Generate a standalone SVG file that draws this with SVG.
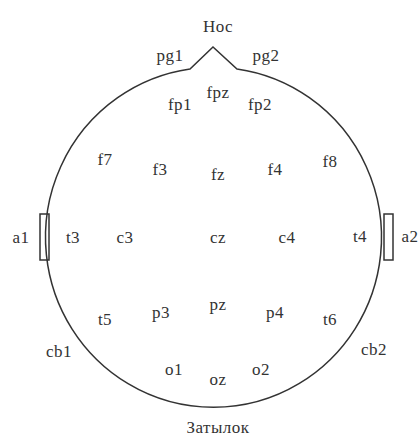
<svg xmlns="http://www.w3.org/2000/svg" width="420" height="437" viewBox="0 0 420 437">
<style>
text{font-family:"Liberation Serif","DejaVu Serif","Times New Roman",serif;font-size:17px;fill:#333;text-anchor:middle;letter-spacing:0.5px}
.ln{fill:none;stroke:#333;stroke-width:1.5}
</style>
<rect width="420" height="437" fill="#fff"/>
<g id="head">
<path class="ln" d="M 237 69 A 168 170 0 1 1 190 69 L 213 47 Z" stroke-linejoin="miter"/>
</g>
<g id="ear-left"><rect class="ln" x="40" y="214" width="9" height="46"/></g>
<g id="ear-right"><rect class="ln" x="384" y="214" width="9" height="46"/></g>
<g id="labels">
<text x="218" y="32">Нос</text>
<text x="170" y="61">pg1</text>
<text x="266" y="61">pg2</text>
<text x="218" y="98">fpz</text>
<text x="180" y="110">fp1</text>
<text x="260" y="110">fp2</text>
<text x="105" y="165">f7</text>
<text x="160" y="175">f3</text>
<text x="218" y="180">fz</text>
<text x="275" y="175">f4</text>
<text x="330" y="167">f8</text>
<text x="21" y="243">a1</text>
<text x="73" y="243">t3</text>
<text x="125" y="243">c3</text>
<text x="218" y="243">cz</text>
<text x="287" y="243">c4</text>
<text x="360" y="242">t4</text>
<text x="410" y="242">a2</text>
<text x="218" y="310">pz</text>
<text x="161" y="318">p3</text>
<text x="275" y="318">p4</text>
<text x="105" y="325">t5</text>
<text x="330" y="325">t6</text>
<text x="59" y="357">cb1</text>
<text x="374" y="355">cb2</text>
<text x="174" y="375">o1</text>
<text x="218" y="385">oz</text>
<text x="261" y="375">o2</text>
<text x="218" y="433">Затылок</text>
</g>
</svg>
